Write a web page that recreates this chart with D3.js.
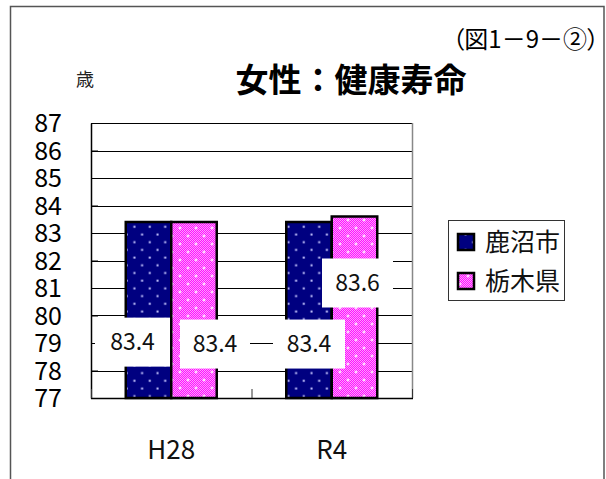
<!DOCTYPE html>
<html><head><meta charset="utf-8">
<script src="https://cdn.jsdelivr.net/npm/d3@7"></script>
<style>
html,body{margin:0;padding:0;background:#fff;}
svg{display:block;font-family:"Noto Sans CJK JP","Noto Sans",sans-serif;}
</style></head>
<body>
<svg id="chart" width="606" height="479"></svg>
<script>
// ---- data ----
const categories = ["H28", "R4"];
const seriesNames = ["鹿沼市", "栃木県"];
const kanumaValues = [83.4, 83.4];
const tochigiValues = [83.4, 83.6];
const yTicks = [77, 78, 79, 80, 81, 82, 83, 84, 85, 86, 87];
const titleText = "女性：健康寿命";
const figNoText = "（図1－9－②）";
const unitText = "歳";

// ---- layout (not data) ----
const plot = {left: 91, right: 412, top: 123, bottom: 398};
const labelLayout = [
  {s: 0, c: 0, dx: -16, w: 75, cy: 79.05},
  {s: 1, c: 0, dx: 21, w: 70, cy: 78.98},
  {s: 0, c: 1, dx: 0, w: 72, cy: 78.98},
  {s: 1, c: 1, dx: 3, w: 71, cy: 81.2}
];

const svg = d3.select("#chart");
const defs = svg.append("defs");

// navy dotted pattern
const pNavy = defs.append("pattern").attr("id", "navyPat")
  .attr("patternUnits", "userSpaceOnUse").attr("width", 15.4).attr("height", 15.4);
pNavy.append("rect").attr("width", 15.4).attr("height", 15.4).attr("fill", "#000080");
[[3.5, 3.5], [11.2, 11.2]].forEach(p => pNavy.append("rect")
  .attr("x", p[0] - 1).attr("y", p[1] - 1).attr("width", 2).attr("height", 2).attr("fill", "#c8c8ff"));

// pink checker pattern
const pPink = defs.append("pattern").attr("id", "pinkPat")
  .attr("patternUnits", "userSpaceOnUse").attr("width", 16).attr("height", 16);
pPink.append("rect").attr("width", 16).attr("height", 16).attr("fill", "#ff10ff");
let chk = "";
for (let i = 0; i < 16; i++) for (let j = 0; j < 16; j++) if ((i + j) % 2 === 0) chk += `M${i},${j}h1v1h-1z`;
pPink.append("path").attr("d", chk).attr("fill", "#ff9cff");
[[4, 4], [12, 12]].forEach(p => {
  pPink.append("rect").attr("x", p[0] - 1.5).attr("y", p[1] - 0.5).attr("width", 3).attr("height", 1).attr("fill", "#fff");
  pPink.append("rect").attr("x", p[0] - 0.5).attr("y", p[1] - 1.5).attr("width", 1).attr("height", 3).attr("fill", "#fff");
});
const fills = ["url(#navyPat)", "url(#pinkPat)"];

// outer frame
svg.append("rect").attr("x", 10.5).attr("y", 6.5).attr("width", 593.5).attr("height", 490)
  .attr("fill", "none").attr("stroke", "#555").attr("stroke-width", 1.5);

// scales
const x0 = d3.scaleBand().domain(categories).range([plot.left, plot.right]).padding(0);
const x1 = d3.scaleBand().domain(seriesNames).range([0, x0.bandwidth()]).paddingInner(0).paddingOuter(0.764);
const y = d3.scaleLinear().domain([77, 87]).range([plot.bottom, plot.top]);

// gridlines
svg.append("g").selectAll("line").data(yTicks).join("line")
  .attr("x1", plot.left).attr("x2", plot.right)
  .attr("y1", d => Math.round(y(d)) + 0.5).attr("y2", d => Math.round(y(d)) + 0.5)
  .attr("stroke", "#000").attr("stroke-width", 1);
svg.append("line").attr("x1", plot.right + 0.5).attr("x2", plot.right + 0.5)
  .attr("y1", plot.top).attr("y2", plot.bottom).attr("stroke", "#888").attr("stroke-width", 1.5);

// y axis
const yAxis = d3.axisLeft(y).tickValues(yTicks).tickFormat(d3.format("d")).tickSizeInner(-7).tickSizeOuter(0).tickPadding(29);
const gy = svg.append("g").attr("transform", `translate(${plot.left},0)`).call(yAxis);
gy.select(".domain").attr("stroke", "#000").attr("stroke-width", 1.5);
gy.selectAll(".tick line").attr("stroke", "#000");
gy.selectAll(".tick text").attr("font-size", 25).attr("fill", "#000")
  .attr("font-family", "'Noto Sans CJK JP', sans-serif").attr("dy", "0.35em");

// bars
const rows = [];
categories.forEach((c, ci) => {
  rows.push({c, ci, s: 0, v: kanumaValues[ci]});
  rows.push({c, ci, s: 1, v: tochigiValues[ci]});
});
svg.append("g").selectAll("rect").data(rows).join("rect")
  .attr("x", d => x0(d.c) + x1(seriesNames[d.s]))
  .attr("y", d => y(d.v))
  .attr("width", x1.bandwidth())
  .attr("height", d => y(77) - y(d.v))
  .attr("fill", d => fills[d.s])
  .attr("stroke", "#000").attr("stroke-width", 2.5);

// x axis
const gx = svg.append("g").attr("transform", `translate(0,${plot.bottom})`);
gx.append("line").attr("x1", plot.left).attr("x2", plot.right + 1).attr("y1", 0.5).attr("y2", 0.5)
  .attr("stroke", "#000").attr("stroke-width", 1.5);
const bounds = [x0(categories[0]), x0(categories[1]), x0(categories[1]) + x0.bandwidth()];
gx.selectAll("line.tk").data(bounds).join("line").attr("class", "tk")
  .attr("x1", d => d + 0.5).attr("x2", d => d + 0.5).attr("y1", 0).attr("y2", -9)
  .attr("stroke", "#333").attr("stroke-width", 1);
gx.selectAll("text").data(categories).join("text")
  .attr("x", d => x0(d) + x0.bandwidth() / 2).attr("y", 52).attr("dy", "0.35em")
  .attr("text-anchor", "middle").attr("font-size", 26).attr("fill", "#111").text(d => d);

// data labels
const valOf = (s, c) => (s === 0 ? kanumaValues : tochigiValues)[c];
const lg = svg.append("g");
labelLayout.forEach(L => {
  const cx = x0(categories[L.c]) + x1(seriesNames[L.s]) + x1.bandwidth() / 2 + L.dx;
  const cy = y(L.cy);
  lg.append("rect").attr("x", cx - L.w / 2).attr("y", cy - 24).attr("width", L.w).attr("height", 49).attr("fill", "#fff");
  lg.append("text").attr("x", cx).attr("y", cy).attr("dy", "0.35em").attr("text-anchor", "middle")
    .attr("font-size", 23).attr("fill", "#111").text(valOf(L.s, L.c).toFixed(1));
});

// legend
const leg = svg.append("g");
leg.append("rect").attr("x", 448.5).attr("y", 220.5).attr("width", 116).attr("height", 80)
  .attr("fill", "#fff").attr("stroke", "#333").attr("stroke-width", 1);
seriesNames.forEach((n, i) => {
  const cy = 242 + i * 39;
  leg.append("rect").attr("x", 458).attr("y", cy - 8).attr("width", 16).attr("height", 16)
    .attr("fill", fills[i]).attr("stroke", "#000").attr("stroke-width", 2.5);
  leg.append("text").attr("x", 485).attr("y", cy).attr("dy", "0.35em").attr("font-size", 25)
    .attr("fill", "#111").text(n);
});

// titles
svg.append("text").attr("x", 351).attr("y", 80).attr("dy", "0.35em").attr("text-anchor", "middle")
  .attr("font-size", 33).attr("font-weight", "bold").attr("fill", "#000").text(titleText);
svg.append("text").attr("x", 85).attr("y", 80).attr("dy", "0.35em").attr("text-anchor", "middle")
  .attr("font-size", 18).attr("fill", "#222").text(unitText);
svg.append("text").attr("x", 599).attr("y", 40).attr("dy", "0.35em").attr("text-anchor", "end")
  .style("font-feature-settings", "'palt'")
  .attr("font-size", 24).attr("fill", "#000").text(figNoText);
</script>
</body></html>
